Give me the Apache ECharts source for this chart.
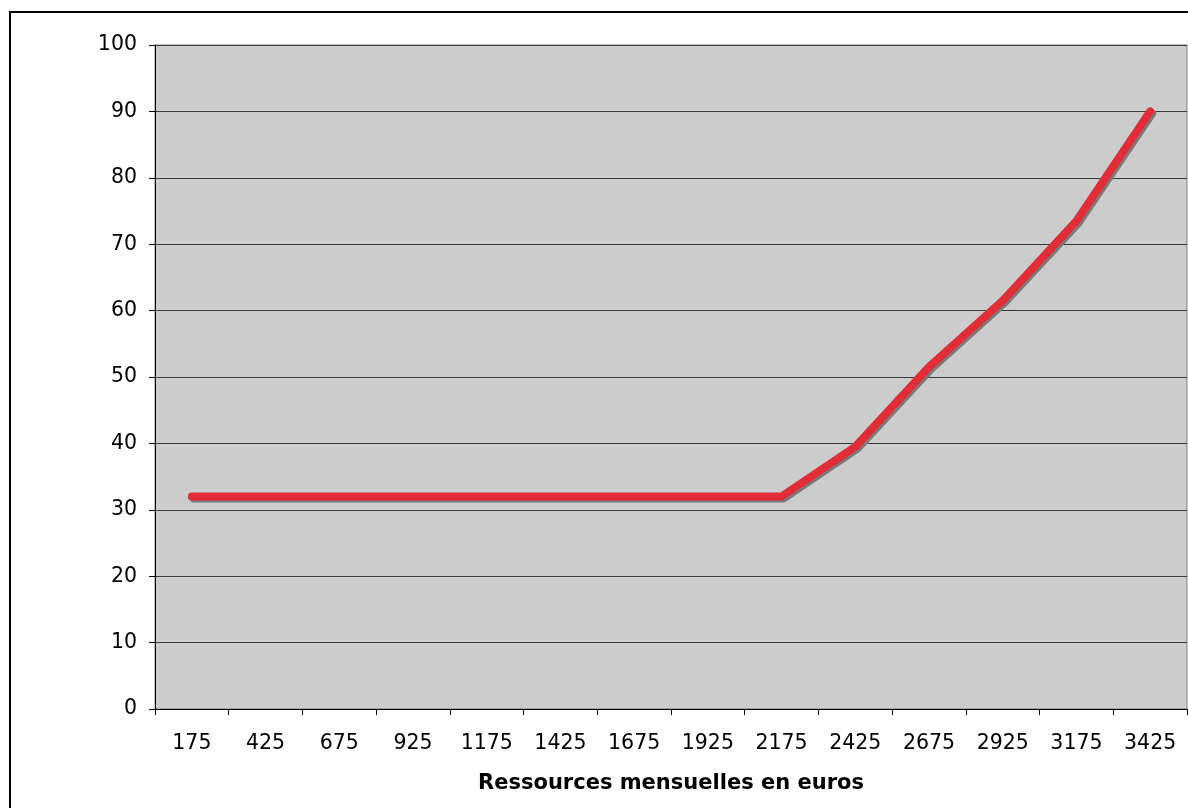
<!DOCTYPE html>
<html>
<head>
<meta charset="utf-8">
<script src="https://cdn.jsdelivr.net/npm/echarts@6/dist/echarts.min.js"></script>
<style>
  html, body { margin: 0; padding: 0; background: #ffffff; }
  #chart { width: 1188px; height: 808px; }
</style>
</head>
<body>
<div id="chart"></div>
<script>
// Monthly income brackets (euros) and the plotted rate for each bracket
const categories = ['175', '425', '675', '925', '1175', '1425', '1675', '1925', '2175', '2425', '2675', '2925', '3175', '3425'];
const values = [32, 32, 32, 32, 32, 32, 32, 32, 32, 39.5, 51.5, 61.5, 73.5, 90];
const yTicks = { min: 0, max: 100, interval: 10 };
const xTitle = 'Ressources mensuelles en euros';

const chart = echarts.init(document.getElementById('chart'), null, { renderer: 'canvas' });
const font = 'DejaVu Sans, Verdana, sans-serif';

chart.setOption({
  animation: false,
  backgroundColor: '#ffffff',
  graphic: [{
    type: 'rect',
    shape: { x: 10, y: 12, width: 1200, height: 820 },
    style: { fill: 'none', stroke: '#000000', lineWidth: 2 },
    z: -1
  }],
  grid: {
    left: 155, top: 45, right: 1, bottom: 99,
    show: true,
    backgroundColor: '#cccccc',
    borderColor: '#808080',
    borderWidth: 1
  },
  xAxis: {
    type: 'category',
    data: categories,
    boundaryGap: true,
    axisLine: { lineStyle: { color: '#000000', width: 1 } },
    axisTick: { show: true, inside: false, length: 6, alignWithLabel: false, lineStyle: { color: '#000000' } },
    axisLabel: { color: '#000000', fontFamily: font, fontSize: 20.5, margin: 24, interval: 0 },
    splitLine: { show: false },
    name: xTitle,
    nameLocation: 'middle',
    nameGap: 64,
    nameTextStyle: { color: '#000000', fontFamily: font, fontSize: 21, fontWeight: 'bold' }
  },
  yAxis: {
    type: 'value',
    min: yTicks.min,
    max: yTicks.max,
    interval: yTicks.interval,
    axisLine: { show: true, lineStyle: { color: '#000000', width: 1 } },
    axisTick: { show: true, inside: false, length: 6, lineStyle: { color: '#000000' } },
    axisLabel: { color: '#000000', fontFamily: font, fontSize: 20.5, margin: 18 },
    splitLine: { show: true, lineStyle: { color: '#3a3a3a', width: 1 } }
  },
  series: [{
    type: 'line',
    data: values,
    symbol: 'none',
    lineStyle: {
      color: '#e02d38',
      width: 8,
      cap: 'round',
      join: 'round',
      shadowColor: '#7a7a7a',
      shadowBlur: 0,
      shadowOffsetX: 2,
      shadowOffsetY: 2
    }
  }]
});
</script>
</body>
</html>
